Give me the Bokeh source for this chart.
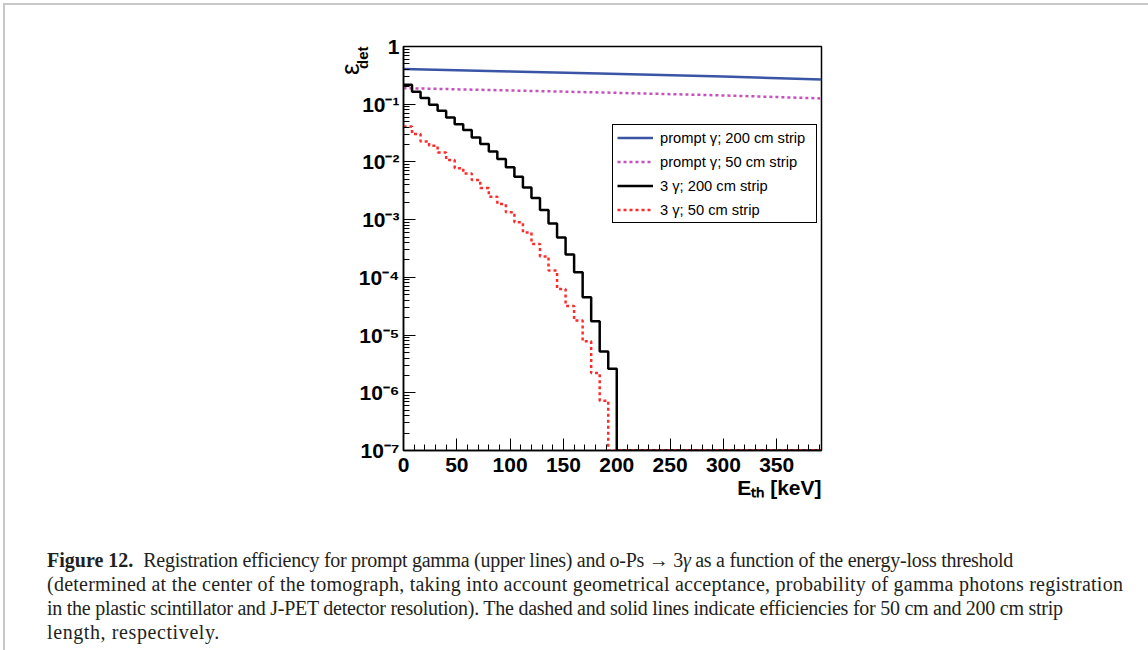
import numpy as np
from bokeh.plotting import figure
from bokeh.layouts import column
from bokeh.models import (Range1d, SingleIntervalTicker, LogTicker, CustomJSTickFormatter,
                          Legend, LegendItem, Title, Div)
from bokeh.embed import file_html
from bokeh.resources import INLINE

# ---------------- data ----------------
bin_edges = list(range(0, 400, 8))            # keV, 8 keV bins, 0 .. 392
three_gamma_200 = [0.217, 0.164, 0.128, 0.098, 0.077, 0.059, 0.045, 0.0356, 0.0266,
                   0.0204, 0.0152, 0.0112, 0.00805, 0.00555, 0.00362, 0.00237, 0.00147,
                   8.6e-4, 4.9e-4, 2.5e-4, 1.22e-4, 4.5e-5, 1.73e-5, 5.2e-6, 2.6e-6] + [0.0] * 24
three_gamma_50 = [0.041, 0.0304, 0.0227, 0.0191, 0.0146, 0.0108, 0.0078, 0.0063, 0.00486,
                  0.00353, 0.0025, 0.00186, 0.00134, 9.0e-4, 6.0e-4, 3.8e-4, 2.3e-4,
                  1.31e-4, 6.3e-5, 3.2e-5, 1.78e-5, 7.8e-6, 2.2e-6, 7.3e-7] + [0.0] * 25
prompt_e = [0, 100, 184, 300, 392]
prompt_200 = [0.406, 0.370, 0.341, 0.302, 0.268]
prompt_50 = [0.190, 0.173, 0.160, 0.142, 0.126]

legend_labels = ["prompt \u03b3; 200 cm strip", "prompt \u03b3; 50 cm strip",
                 "3 \u03b3; 200 cm strip", "3 \u03b3; 50 cm strip"]

x_title = "E\u209c\u2095 [keV]"
y_title_main = "\u03b5"
y_title_sub = "det"

caption_bold = "Figure 12."
caption_lines = [
    "Registration efficiency for prompt gamma (upper lines) and o-Ps \u2192 3<i>\u03b3</i> as a function of the energy-loss threshold",
    "(determined at the center of the tomograph, taking into account geometrical acceptance, probability of gamma photons registration",
    "in the plastic scintillator and J-PET detector resolution). The dashed and solid lines indicate efficiencies for 50 cm and 200 cm strip",
    "length, respectively.",
]
caption_letter_spacing = ["-0.28px", "0.24px", "-0.26px", "0.6px"]

# ---------------- figure ----------------
y_lo, y_hi = 1e-7, 1.0
x_lo, x_hi = 0, bin_edges[-1]

p = figure(width=1148, height=530, output_backend="svg", toolbar_location=None,
           y_axis_type="log", x_range=Range1d(x_lo, x_hi), y_range=Range1d(y_lo, y_hi),
           min_border_left=403, min_border_right=327, min_border_top=46, min_border_bottom=80)
p.grid.visible = False
p.outline_line_color = "black"
p.outline_line_width = 1.5
p.outline_line_alpha = 1.0
p.background_fill_color = "white"
p.border_fill_color = None

AX_FONT = "Liberation Sans"

p.xaxis.ticker = SingleIntervalTicker(interval=50, num_minor_ticks=5)
p.yaxis.ticker = LogTicker(num_minor_ticks=10)
p.yaxis.formatter = CustomJSTickFormatter(code="""
const e = Math.round(Math.log10(tick));
if (e == 0) { return "1"; }
const sup = {"0": "\\u2070", "1": "\\u00b9", "2": "\\u00b2", "3": "\\u00b3", "4": "\\u2074",
             "5": "\\u2075", "6": "\\u2076", "7": "\\u2077", "8": "\\u2078", "9": "\\u2079",
             "-": "\\u207b"};
return "10" + String(e).split("").map((c) => sup[c]).join("");
""")
for ax in (p.xaxis, p.yaxis):
    ax.axis_line_width = 1.5
    ax.axis_line_color = "black"
    ax.major_tick_in = 12
    ax.major_tick_out = 0
    ax.minor_tick_in = 6
    ax.minor_tick_out = 0
    ax.major_tick_line_color = "black"
    ax.minor_tick_line_color = "black"
    ax.major_label_text_font = AX_FONT
    ax.major_label_text_font_style = "bold"
    ax.major_label_text_font_size = "21px"
    ax.major_label_text_color = "black"
p.xaxis.major_label_standoff = 7
p.yaxis.major_label_standoff = 4

# ---------------- series ----------------
def step_y(vals):
    v = np.maximum(np.array(vals, dtype=float), y_lo)
    return list(v) + [v[-1]]

r_p200 = p.line(prompt_e, prompt_200, line_color="#3a55a5", line_width=2.5)
r_p50 = p.line(prompt_e, prompt_50, line_color="#c651bd", line_width=2.5, line_dash="3 3")
r_3g200 = p.step(bin_edges, step_y(three_gamma_200), mode="after", line_color="black", line_width=2.5)
r_3g50 = p.step(bin_edges, step_y(three_gamma_50), mode="after", line_color="#ff2a2a", line_width=2.5,
                line_dash="3 3")

legend = Legend(items=[LegendItem(label=legend_labels[0], renderers=[r_p200]),
                       LegendItem(label=legend_labels[1], renderers=[r_p50]),
                       LegendItem(label=legend_labels[2], renderers=[r_3g200]),
                       LegendItem(label=legend_labels[3], renderers=[r_3g50])],
                location=(209, 227), margin=0, padding=4, spacing=7,
                glyph_width=36, glyph_height=17, label_height=17, label_width=152, label_standoff=7,
                label_text_font=AX_FONT, label_text_font_size="14.7px", label_text_color="black",
                border_line_color="black", border_line_width=1, border_line_alpha=1.0,
                background_fill_color="white")
p.add_layout(legend)

# ---------------- axis titles ----------------
p.add_layout(Title(text=x_title, align="right", text_font=AX_FONT, text_font_style="bold",
                   text_font_size="21px", text_color="black", standoff=-2), "below")
p.add_layout(Title(text=y_title_sub, align="right", text_font=AX_FONT, text_font_style="bold",
                   text_font_size="15px", text_color="black", standoff=-30), "left")
p.add_layout(Title(text=y_title_main, align="right", offset=17, text_font=AX_FONT,
                   text_font_style="normal", text_font_size="26px", text_color="black",
                   standoff=-18), "left")

# ---------------- caption ----------------
line_html = ["<span style='letter-spacing:%s'>%s</span>" % (ls, t)
             for ls, t in zip(caption_letter_spacing, caption_lines)]
cap_html = ("<b>%s</b>&nbsp;&nbsp;" % caption_bold) + "<br>".join(line_html)
cap = Div(text=cap_html, width=1148, height=120,
          styles={"font-family": "'Liberation Serif'", "font-size": "20px", "line-height": "24px",
                  "color": "#231f20", "white-space": "nowrap", "padding-left": "42px",
                  "padding-top": "13px", "box-sizing": "border-box"})

layout = column(p, cap, styles={"outline": "2px solid #c8c8c8", "outline-offset": "-5px"})
open("out.html", "w").write(file_html(layout, INLINE))
